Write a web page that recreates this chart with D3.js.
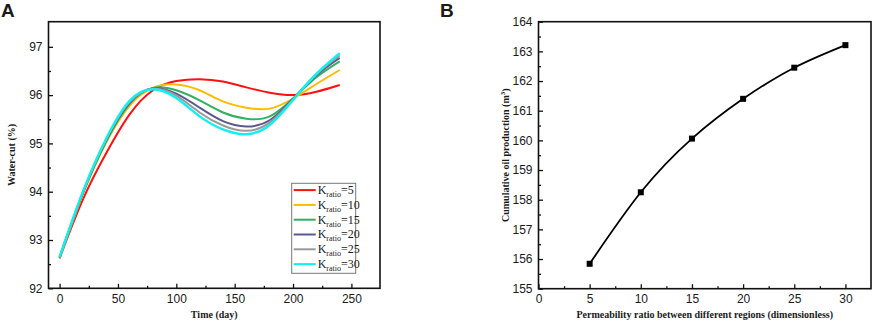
<!DOCTYPE html>
<html>
<head>
<meta charset="utf-8">
<script src="https://cdn.jsdelivr.net/npm/d3@7"></script>
<style>
  body { margin: 0; background: #fff; }
  svg text { fill: #1a1a1a; }
  .tick text { font-family: "Liberation Sans", Arial, sans-serif; font-size: 12px; }
  .axlabel { font-family: "Liberation Serif", "Times New Roman", serif; font-weight: bold; font-size: 10px; }
  .panel { font-family: "Liberation Sans", Arial, sans-serif; font-weight: bold; font-size: 19px; }
</style>
</head>
<body>
<div id="chart"></div>
<script>
// ---- data ----
var days = [0, 20, 40, 60, 80, 100, 120, 140, 160, 180, 200, 220, 240];
var k5  = [92.62, 93.84, 94.80, 95.60, 96.10, 96.29, 96.33, 96.28, 96.16, 96.05, 96.00, 96.07, 96.21];
var k10 = [92.62, 93.95, 95.02, 95.78, 96.15, 96.22, 96.10, 95.87, 95.74, 95.72, 95.93, 96.23, 96.52];
var k15 = [92.63, 93.97, 95.05, 95.82, 96.15, 96.10, 95.89, 95.64, 95.51, 95.56, 95.93, 96.37, 96.70];
var k20 = [92.64, 93.98, 95.07, 95.84, 96.14, 96.03, 95.74, 95.46, 95.35, 95.48, 95.92, 96.41, 96.77];
var k25 = [92.64, 93.99, 95.09, 95.86, 96.13, 95.99, 95.64, 95.37, 95.26, 95.43, 95.91, 96.43, 96.82];
var k30 = [92.65, 94.00, 95.10, 95.88, 96.12, 95.94, 95.56, 95.29, 95.19, 95.38, 95.90, 96.44, 96.87];
var seriesNames = ["5", "10", "15", "20", "25", "30"];
var seriesColors = ["#ff1010", "#ffbb00", "#33b060", "#5a5a90", "#9a9a9a", "#10f0f0"];

var ratios = [5, 10, 15, 20, 25, 30];
var oilProd = [155.84, 158.25, 160.06, 161.40, 162.45, 163.21];

var W = 872, H = 324;
var svg = d3.select("#chart").append("svg").attr("width", W).attr("height", H);

// helper: frame + inward major/minor ticks
function drawAxes(g, x, y, w, h, xMajor, xMinor, yMajor, yMinor) {
  g.append("g").attr("transform", "translate(0," + h + ")")
    .call(d3.axisBottom(x).tickValues(xMinor).tickSize(-2.5).tickFormat(""));
  g.append("g").attr("transform", "translate(0," + h + ")")
    .call(d3.axisBottom(x).tickValues(xMajor).tickSize(-4.5).tickPadding(6).tickFormat(d3.format("d")));
  g.append("g")
    .call(d3.axisLeft(y).tickValues(yMinor).tickSize(-2.5).tickFormat(""));
  g.append("g")
    .call(d3.axisLeft(y).tickValues(yMajor).tickSize(-4.5).tickPadding(6).tickFormat(d3.format("d")));
  g.selectAll(".domain").remove();
  g.selectAll(".tick line").attr("stroke", "#111").attr("stroke-width", 1.3);
  g.append("rect").attr("width", w).attr("height", h)
    .attr("fill", "none").attr("stroke", "#111").attr("stroke-width", 1.6);
}

// ---------- panel A ----------
var mA = { left: 48.5, top: 21.7, w: 331.5, h: 266.6 };
var gA = svg.append("g").attr("transform", "translate(" + mA.left + "," + mA.top + ")");
var xA = d3.scaleLinear().domain([-9.5, 274.5]).range([0, mA.w]);
var yA = d3.scaleLinear().domain([92, 97.52]).range([mA.h, 0]);

var allK = [k5, k10, k15, k20, k25, k30];
var lineA = d3.line().x(function (d, i) { return xA(days[i]); }).y(function (d) { return yA(d); })
  .curve(d3.curveNatural);
allK.forEach(function (s, j) {
  gA.append("path").datum(s).attr("d", lineA)
    .attr("fill", "none").attr("stroke", seriesColors[j]).attr("stroke-width", j == 5 ? 2.4 : 2);
});

drawAxes(gA, xA, yA, mA.w, mA.h,
  [0, 50, 100, 150, 200, 250], [25, 75, 125, 175, 225],
  [92, 93, 94, 95, 96, 97], [92.5, 93.5, 94.5, 95.5, 96.5]);

// legend
var lg = gA.append("g").attr("transform", "translate(" + (291.7 - mA.left) + "," + (183.3 - mA.top) + ")");
lg.append("rect").attr("width", 64).attr("height", 90)
  .attr("fill", "#fff").attr("stroke", "#777").attr("stroke-width", 1);
seriesNames.forEach(function (n, j) {
  var yy = 6.8 + j * 14.8;
  lg.append("line").attr("x1", 2).attr("x2", 24).attr("y1", yy).attr("y2", yy)
    .attr("stroke", seriesColors[j]).attr("stroke-width", 2);
  var t = lg.append("text").attr("x", 26).attr("y", yy + 4)
    .style("font-family", "'Liberation Serif', 'Times New Roman', serif").style("font-size", "12px");
  t.append("tspan").text("K");
  t.append("tspan").attr("dy", 3).style("font-size", "8px").text("ratio");
  t.append("tspan").attr("dy", -3).text("=" + n);
});

gA.append("text").attr("class", "axlabel").attr("text-anchor", "middle")
  .attr("x", mA.w / 2).attr("y", 296).text("Time (day)");
gA.append("text").attr("class", "axlabel").attr("text-anchor", "middle")
  .attr("transform", "translate(-34," + (mA.h / 2) + ")rotate(-90)").text("Water-cut (%)");
svg.append("text").attr("class", "panel").attr("x", 1).attr("y", 17).text("A");

// ---------- panel B ----------
var mB = { left: 538.5, top: 21.7, w: 332.5, h: 267 };
var gB = svg.append("g").attr("transform", "translate(" + mB.left + "," + mB.top + ")");
var xB = d3.scaleLinear().domain([0, 32.5]).range([0, mB.w]);
var yB = d3.scaleLinear().domain([155, 164]).range([mB.h, 0]);

drawAxes(gB, xB, yB, mB.w, mB.h,
  [0, 5, 10, 15, 20, 25, 30], [2.5, 7.5, 12.5, 17.5, 22.5, 27.5],
  d3.range(155, 165), d3.range(155.5, 164, 1));

var lineB = d3.line().x(function (d, i) { return xB(ratios[i]); }).y(function (d) { return yB(d); })
  .curve(d3.curveNatural);
gB.append("path").datum(oilProd).attr("d", lineB)
  .attr("fill", "none").attr("stroke", "#000").attr("stroke-width", 1.8);
gB.selectAll("rect.pt").data(oilProd).enter().append("rect").attr("class", "pt")
  .attr("x", function (d, i) { return xB(ratios[i]) - 3; })
  .attr("y", function (d) { return yB(d) - 3; })
  .attr("width", 6).attr("height", 6).attr("fill", "#000");

gB.append("text").attr("class", "axlabel").attr("text-anchor", "middle")
  .attr("x", mB.w / 2).attr("y", 296).text("Permeability ratio between different regions (dimensionless)");
var yl = gB.append("text").attr("class", "axlabel").attr("text-anchor", "middle")
  .attr("transform", "translate(-30," + (mB.h / 2) + ")rotate(-90)");
yl.append("tspan").text("Cumulative oil production (m");
yl.append("tspan").attr("dy", -4).style("font-size", "7px").text("3");
yl.append("tspan").attr("dy", 4).text(")");
svg.append("text").attr("class", "panel").attr("x", 440).attr("y", 17).text("B");
</script>
</body>
</html>
